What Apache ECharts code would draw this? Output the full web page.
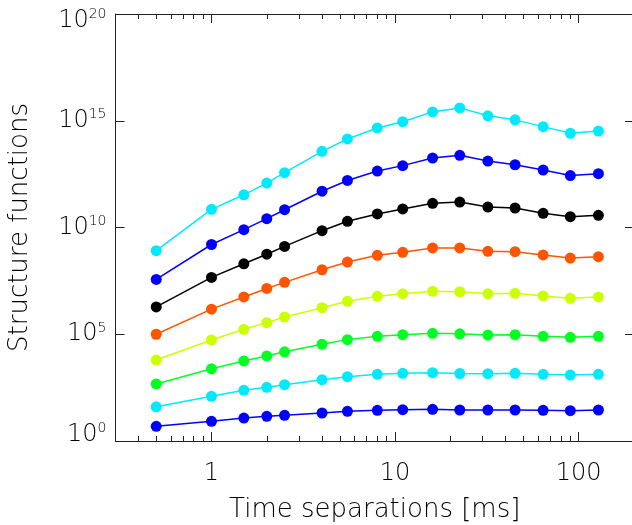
<!DOCTYPE html>
<html>
<head>
<meta charset="utf-8">
<script src="https://cdn.jsdelivr.net/npm/echarts@6/dist/echarts.min.js"></script>
<style>
  html, body { margin: 0; padding: 0; background: #fff; }
  #chart { width: 632px; height: 525px; }
</style>
</head>
<body>
<div id="chart"></div>
<script>
// Time separations (ms)
const times = [0.5, 1, 1.5, 2, 2.5, 4, 5.5, 8, 11, 16, 22.5, 32, 45, 64, 90, 128];

// Structure functions, highest order first
const order8 = [8.2e8, 7.1e10, 3.4e11, 1.2e12, 3.7e12, 3.7e13, 1.4e14, 4.6e14, 9.0e14, 2.6e15, 4.0e15, 1.7e15, 1.1e15, 5.3e14, 2.6e14, 3.3e14];
const order7 = [3.7e7, 1.6e9, 7.9e9, 2.6e10, 6.8e10, 5.0e11, 1.6e12, 4.4e12, 7.9e12, 1.8e13, 2.4e13, 1.3e13, 8.7e12, 4.9e12, 2.7e12, 3.3e12];
const order6 = [1.9e6, 4.6e7, 2.0e8, 5.6e8, 1.3e9, 7.1e9, 1.95e10, 4.3e10, 7.4e10, 1.36e11, 1.55e11, 9.1e10, 8.2e10, 4.6e10, 3.2e10, 3.7e10];
const order5 = [1.0e5, 1.5e6, 5.6e6, 1.4e7, 2.7e7, 1.05e8, 2.4e8, 5.0e8, 6.9e8, 1.1e9, 1.1e9, 7.7e8, 7.4e8, 5.2e8, 3.7e8, 4.3e8];
const order4 = [6.2e3, 5.4e4, 1.7e5, 3.5e5, 6.4e5, 1.75e6, 3.5e6, 6.0e6, 7.9e6, 1.03e7, 9.8e6, 7.9e6, 8.3e6, 6.2e6, 4.8e6, 5.6e6];
const order3 = [4.7e2, 2.4e3, 5.6e3, 9.6e3, 1.5e4, 3.4e4, 5.6e4, 8.0e4, 9.5e4, 1.1e5, 1.05e5, 9.2e4, 9.5e4, 8.0e4, 7.2e4, 8.0e4];
const order2 = [40, 124, 237, 327, 433, 743, 1030, 1330, 1480, 1580, 1450, 1420, 1480, 1330, 1230, 1330];
const order1 = [4.9, 8.4, 11.9, 14.4, 16.0, 20.5, 24.6, 27.4, 29.2, 30.5, 28.3, 28.3, 28.3, 27.4, 26.3, 28.3];

// Axis ticks and labels
const xMajorTicks = [1, 10, 100];
const xMinorTicks = [0.3, 0.4, 0.5, 0.6, 0.7, 0.8, 0.9, 2, 3, 4, 5, 6, 7, 8, 9, 20, 30, 40, 50, 60, 70, 80, 90, 200];
const yMajorTicks = [1, 1e5, 1e10, 1e15, 1e20];

const FONT = 'DejaVu Sans';
const INK = '#000';

const seriesDefs = [
  { name: 'order 8', data: order8, color: '#00eaff' },
  { name: 'order 7', data: order7, color: '#0000ff' },
  { name: 'order 6', data: order6, color: '#000000' },
  { name: 'order 5', data: order5, color: '#ff5500' },
  { name: 'order 4', data: order4, color: '#ccff00' },
  { name: 'order 3', data: order3, color: '#00ff22' },
  { name: 'order 2', data: order2, color: '#00eaff' },
  { name: 'order 1', data: order1, color: '#0000ff' }
];

function xAxisDef(position, ticks, len, withLabels) {
  return {
    type: 'log',
    logBase: 10,
    min: 0.3,
    max: 200,
    position: position,
    axisLine: { show: true, onZero: false, lineStyle: { color: '#222', width: 1 } },
    axisTick: { show: true, inside: true, length: len, customValues: ticks, lineStyle: { color: '#222', width: 1 } },
    axisLabel: withLabels ? {
      show: true, customValues: xMajorTicks, margin: 21,
      fontFamily: FONT, fontWeight: 200, fontSize: 24, color: INK,
      formatter: v => String(v)
    } : { show: false },
    splitLine: { show: false },
    minorTick: { show: false },
    name: withLabels ? 'Time separations [ms]' : '',
    nameLocation: 'middle',
    nameGap: 56,
    nameTextStyle: { fontFamily: FONT, fontWeight: 200, fontSize: 26, color: INK }
  };
}

function yLabel(value) {
  const exp = Math.round(Math.log10(value));
  if (exp === 0) return '{b|10}{e|' + exp + '}\n{g| }';
  if (exp === 20) return '{g| }\n{b|10}{e|' + exp + '}';
  return '{b|10}{e|' + exp + '}';
}

function yAxisDef(position, withLabels) {
  return {
    type: 'log',
    logBase: 10,
    min: 1,
    max: 1e20,
    position: position,
    axisLine: { show: true, onZero: false, lineStyle: { color: '#222', width: 1 } },
    axisTick: { show: true, inside: true, length: 9, customValues: yMajorTicks, lineStyle: { color: '#222', width: 1 } },
    axisLabel: withLabels ? {
      show: true, customValues: yMajorTicks, margin: 9,
      formatter: yLabel,
      rich: {
        b: { fontFamily: FONT, fontWeight: 200, fontSize: 24, color: INK, lineHeight: 26 },
        e: { fontFamily: FONT, fontWeight: 200, fontSize: 14, color: INK, lineHeight: 14, verticalAlign: 'top' },
        g: { fontSize: 10, lineHeight: 13 }
      }
    } : { show: false },
    splitLine: { show: false },
    minorTick: { show: false },
    name: withLabels ? 'Structure functions' : '',
    nameLocation: 'middle',
    nameGap: 82,
    nameTextStyle: { fontFamily: FONT, fontWeight: 200, fontSize: 26, color: INK }
  };
}

const chart = echarts.init(document.getElementById('chart'), null, { renderer: 'canvas' });

chart.setOption({
  animation: false,
  backgroundColor: '#fff',
  grid: { left: 115.5, right: -2, top: 14, bottom: 84, containLabel: false, outerBoundsMode: 'none' },
  xAxis: [
    xAxisDef('bottom', xMajorTicks, 9, true),
    xAxisDef('bottom', xMinorTicks, 5, false),
    xAxisDef('top', xMajorTicks, 9, false),
    xAxisDef('top', xMinorTicks, 5, false)
  ],
  yAxis: [
    yAxisDef('left', true),
    yAxisDef('right', false)
  ],
  series: seriesDefs.map(s => ({
    name: s.name,
    type: 'line',
    xAxisIndex: 0,
    yAxisIndex: 0,
    data: times.map((t, i) => [t, s.data[i]]),
    symbol: 'circle',
    symbolSize: 11,
    showSymbol: true,
    color: s.color,
    lineStyle: { color: s.color, width: 1.5 },
    itemStyle: { color: s.color },
    emphasis: { disabled: true }
  }))
});
</script>
</body>
</html>
